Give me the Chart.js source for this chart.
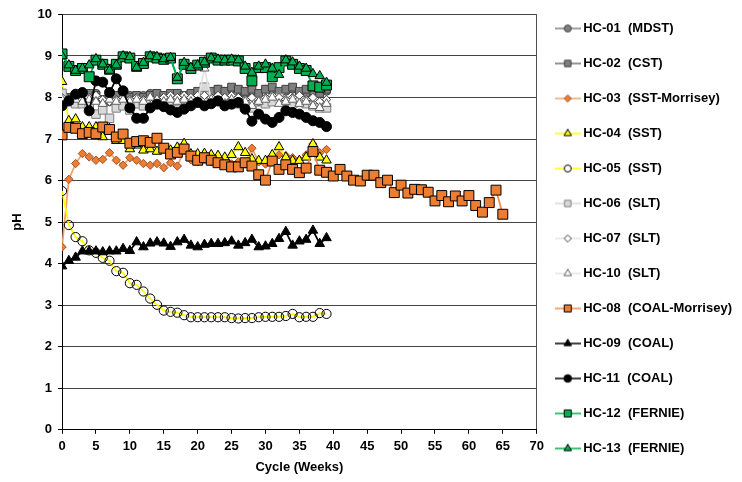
<!DOCTYPE html>
<html>
<head>
<meta charset="utf-8">
<script src="https://cdn.jsdelivr.net/npm/chart.js@4.4.1/dist/chart.umd.min.js"></script>
<style>
  html, body { margin: 0; padding: 0; background: #ffffff; }
  #wrap { width: 742px; height: 482px; }
</style>
</head>
<body>
<div id="wrap"><canvas id="c" width="742" height="482"></canvas></div>
<script>
// Weekly leach-cycle pH readings, one array per humidity cell.
const weeks39 = [0,1,2,3,4,5,6,7,8,9,10,11,12,13,14,15,16,17,18,19,20,21,22,23,24,25,26,27,28,29,30,31,32,33,34,35,36,37,38,39];
const weeks65 = [0,1,2,3,4,5,6,7,8,9,10,11,12,13,14,15,16,17,18,19,20,21,22,23,24,25,26,27,28,29,30,31,32,33,34,35,36,37,38,39,40,41,42,43,44,45,46,47,48,49,50,51,52,53,54,55,56,57,58,59,60,61,62,63,64,65];

const hc01 = [7.95,8.0,8.05,8.1,8.0,8.1,7.95,7.9,8.0,8.0,8.05,8.0,8.05,8.1,8.05,8.0,8.05,8.1,8.05,8.1,8.05,8.15,8.1,8.2,8.15,8.2,8.15,8.1,8.15,8.05,8.2,8.15,8.1,8.15,8.2,8.1,8.1,8.15,8.1,8.15];
const hc02 = [8.05,8.0,8.0,8.05,8.1,8.05,7.95,8.0,8.05,7.95,8.0,8.05,8.0,8.05,8.1,8.05,8.1,8.1,8.05,8.1,8.15,8.1,8.15,8.2,8.15,8.25,8.2,8.15,8.2,8.1,8.2,8.25,8.15,8.2,8.25,8.15,8.2,8.25,8.1,8.2];
const hc03 = [4.4,6.03,6.41,6.65,6.57,6.49,6.51,6.67,6.49,6.37,6.55,6.49,6.41,6.37,6.41,6.31,6.43,6.35,6.72,6.5,6.45,6.5,6.45,6.42,6.45,6.4,6.45,6.4,6.78,6.45,6.4,6.55,6.62,6.6,6.55,6.5,6.62,6.88,6.67,6.75];
const hc04 = [8.38,7.44,7.48,7.29,7.29,7.29,7.05,7.25,6.96,6.96,6.76,6.85,6.73,6.76,6.7,6.75,6.73,6.8,6.89,6.64,6.64,6.65,6.62,6.6,6.56,6.62,6.81,6.67,6.52,6.48,6.48,6.62,6.81,6.56,6.48,6.48,6.56,6.88,6.56,6.49];
const hc05 = [5.75,4.93,4.64,4.54,4.32,4.26,4.14,4.07,3.82,3.78,3.53,3.49,3.33,3.16,3.01,2.87,2.84,2.82,2.76,2.71,2.71,2.71,2.71,2.71,2.71,2.69,2.68,2.69,2.69,2.71,2.72,2.72,2.72,2.74,2.79,2.71,2.72,2.72,2.81,2.79];
const hc06 = [8.1,7.9,7.85,7.85,7.8,7.6,7.7,7.5,7.75,7.8,7.7,7.85,7.8,7.85,7.9,7.9,7.85,7.9,7.95,7.9,7.95,8.25,7.95,7.9,7.95,8.0,7.85,7.9,7.75,7.9,7.85,7.9,8.0,7.9,7.85,7.95,7.85,7.8,7.75,7.75];
const hc07 = [8.0,7.95,8.0,7.95,8.0,8.05,7.95,7.9,7.95,8.0,7.95,8.0,7.95,8.0,7.95,8.0,8.05,8.0,8.05,8.0,8.05,8.05,8.0,8.05,8.0,8.05,8.0,7.95,8.0,7.9,8.0,8.05,8.0,7.95,8.0,8.05,7.95,8.0,7.9,7.95];
const hc10 = [7.95,7.9,7.95,7.9,7.95,7.9,7.85,7.95,7.9,7.95,7.9,7.95,7.9,8.0,7.95,7.9,7.95,7.9,7.95,7.9,7.9,8.7,7.95,7.9,7.85,7.95,7.85,7.9,7.8,7.9,7.95,8.0,7.85,7.9,7.95,7.85,7.9,7.8,7.75,7.85];
const hc08 = [7.1,7.28,7.26,7.13,7.16,7.13,7.29,7.23,7.05,7.12,6.9,6.94,6.96,6.92,7.02,6.78,6.64,6.68,6.76,6.59,6.49,6.55,6.49,6.43,6.38,6.33,6.33,6.43,6.35,6.14,6.01,6.47,6.27,6.38,6.27,6.19,6.3,6.7,6.25,6.2,6.11,6.27,6.11,6.01,5.99,6.13,6.13,5.95,6.01,5.71,5.89,5.7,5.79,5.78,5.72,5.51,5.64,5.49,5.63,5.51,5.64,5.4,5.24,5.47,5.77,5.19];
const hc09 = [3.94,4.07,4.15,4.3,4.3,4.3,4.28,4.3,4.3,4.36,4.31,4.52,4.4,4.49,4.52,4.49,4.41,4.52,4.58,4.44,4.4,4.46,4.48,4.48,4.5,4.54,4.44,4.5,4.58,4.4,4.42,4.48,4.6,4.77,4.44,4.54,4.58,4.8,4.48,4.62];
const hc11 = [7.8,7.92,8.08,8.12,7.68,8.4,8.37,8.12,8.45,8.16,7.75,7.5,7.5,7.75,7.84,7.78,7.7,7.64,7.72,7.8,7.88,7.8,7.85,7.92,7.8,7.84,7.88,7.72,7.43,7.6,7.48,7.4,7.52,7.68,7.64,7.6,7.52,7.44,7.4,7.3];
const hc12 = [9.05,8.75,8.65,8.7,8.5,8.9,8.8,8.68,8.8,8.98,8.95,8.75,8.82,8.98,8.95,8.92,8.95,8.45,8.8,8.7,8.78,8.85,8.95,8.9,8.9,8.9,8.88,8.7,8.4,8.72,8.72,8.5,8.72,8.88,8.8,8.7,8.65,8.28,8.25,8.3];
const hc13 = [9.0,8.78,8.65,8.7,8.78,8.93,8.8,8.65,8.78,9.0,8.98,8.72,8.84,9.0,8.98,8.93,8.96,8.48,8.84,8.72,8.78,8.85,8.95,8.92,8.9,8.92,8.9,8.75,8.6,8.75,8.8,8.7,8.55,8.9,8.85,8.75,8.7,8.57,8.52,8.36];

const yTicksMin = 0, yTicksMax = 10, yStep = 1;
const xTicksMin = 0, xTicksMax = 70, xStep = 5;

const FONT = '"Liberation Sans", Arial, sans-serif';

function pts(xs, ys) { return ys.map((v, i) => ({ x: xs[i], y: v })); }

function series(label, xs, ys, s) {
  return {
    label,
    data: pts(xs, ys),
    borderColor: s.line,
    borderWidth: s.lw || 1.75,
    pointStyle: s.shape,
    pointRadius: s.r,
    pointHoverRadius: s.r,
    pointBackgroundColor: s.fill,
    pointBorderColor: s.edge,
    pointBorderWidth: 1,
    legendRadius: s.lr,
    tension: 0,
    fill: false
  };
}

const datasets = [
  series('HC-01  (MDST)', weeks39, hc01, { line: '#808080', shape: 'circle', r: 4, fill: '#808080', edge: '#404040', lr: 3.5 }),
  series('HC-02  (CST)', weeks39, hc02, { line: '#707070', shape: 'rect', r: 5.5, fill: '#7f7f7f', edge: '#404040', lr: 4.5 }),
  series('HC-03  (SST-Morrisey)', weeks39, hc03, { line: '#f4a16a', shape: 'rectRot', r: 4.2, fill: '#ed7d31', edge: '#a0522d', lr: 3.6 }),
  series('HC-04  (SST)', weeks39, hc04, { line: '#ffff00', shape: 'triangle', r: 5.5, fill: '#ffff00', edge: '#000000', lr: 4.3 }),
  series('HC-05  (SST)', weeks39, hc05, { line: '#ffff00', shape: 'circle', r: 4.6, fill: 'rgba(255,255,255,0)', edge: '#000000', lr: 3.5 }),
  series('HC-06  (SLT)', weeks39, hc06, { line: '#d9d9d9', shape: 'rect', r: 6, fill: '#d9d9d9', edge: '#7f7f7f', lr: 4.5 }),
  series('HC-07  (SLT)', weeks39, hc07, { line: '#e3e3e3', shape: 'rectRot', r: 4.2, fill: '#ffffff', edge: '#404040', lr: 3.6 }),
  series('HC-10  (SLT)', weeks39, hc10, { line: '#e3e3e3', shape: 'triangle', r: 5.2, fill: '#ffffff', edge: '#606060', lr: 4.3 }),
  series('HC-08  (COAL-Morrisey)', weeks65, hc08, { line: '#f08a4b', shape: 'rect', r: 7, fill: '#ed7d31', edge: '#000000', lr: 5 }),
  series('HC-09  (COAL)', weeks39, hc09, { line: '#000000', shape: 'triangle', r: 5.5, fill: '#000000', edge: '#000000', lr: 4.3 }),
  series('HC-11  (COAL)', weeks39, hc11, { line: '#000000', shape: 'circle', r: 5, fill: '#000000', edge: '#000000', lr: 3.8 }),
  series('HC-12  (FERNIE)', weeks39, hc12, { line: '#00b050', shape: 'rect', r: 7, fill: '#00b050', edge: '#000000', lr: 5 }),
  series('HC-13  (FERNIE)', weeks39, hc13, { line: '#00b050', shape: 'triangle', r: 5.5, fill: '#00b050', edge: '#000000', lr: 4.3 })
];
// later cells are painted over earlier ones
datasets.forEach((d, i) => { d.order = -i; });

// legend swatch: the connecting line with the marker in the middle
function drawMarker(g, shape, x, y, r) {
  g.beginPath();
  if (shape === 'circle') {
    g.arc(x, y, r, 0, Math.PI * 2);
  } else if (shape === 'rect') {
    const s = r * Math.SQRT1_2;
    g.rect(x - s, y - s, 2 * s, 2 * s);
  } else if (shape === 'rectRot') {
    g.moveTo(x - r, y); g.lineTo(x, y - r); g.lineTo(x + r, y); g.lineTo(x, y + r);
  } else if (shape === 'triangle') {
    const b = r * Math.sqrt(3) / 2;
    g.moveTo(x, y - r); g.lineTo(x + b, y + r / 2); g.lineTo(x - b, y + r / 2);
  }
  g.closePath();
  g.fill();
  g.stroke();
}

function swatch(ds) {
  const c = document.createElement('canvas');
  c.width = 26; c.height = 12;
  const g = c.getContext('2d');
  g.strokeStyle = ds.borderColor;
  g.lineWidth = 1.5;
  g.beginPath(); g.moveTo(0, 6); g.lineTo(26, 6); g.stroke();
  g.fillStyle = ds.pointBackgroundColor === 'rgba(255,255,255,0)' ? '#ffffff' : ds.pointBackgroundColor;
  g.strokeStyle = ds.pointBorderColor;
  g.lineWidth = 1;
  drawMarker(g, ds.pointStyle, 13, 6, ds.legendRadius);
  return c;
}

function build() {
  const ctx = document.getElementById('c').getContext('2d');
  new Chart(ctx, {
    type: 'line',
    data: { datasets },
    options: {
      responsive: false,
      animation: false,
      devicePixelRatio: 1,
      layout: { padding: { left: 10, right: 0, top: 0, bottom: 0 } },
      plugins: {
        tooltip: { enabled: false },
        legend: {
          position: 'right',
          align: 'start',
          maxWidth: 215,
          labels: {
            usePointStyle: true,
            pointStyleWidth: 18,
            padding: 22,
            color: '#000000',
            font: { family: FONT, size: 13, weight: 'bold' },
            generateLabels: (chart) => chart.data.datasets.map((ds, i) => ({
              text: ds.label,
              datasetIndex: i,
              pointStyle: swatch(ds),
              fontColor: '#000000',
              fillStyle: 'transparent',
              strokeStyle: 'transparent',
              lineWidth: 0,
              hidden: false
            }))
          }
        }
      },
      scales: {
        x: {
          type: 'linear',
          min: xTicksMin, max: xTicksMax,
          ticks: { stepSize: xStep, color: '#000', padding: 5, font: { family: FONT, size: 13, weight: 'bold' } },
          grid: {
            color: (c) => (c.tick && c.tick.value === xTicksMax ? '#505050' : 'rgba(0,0,0,0)'),
            tickColor: '#000000',
            tickLength: 4,
            lineWidth: 1
          },
          border: { color: '#000000', width: 1 },
          title: { display: true, text: 'Cycle (Weeks)', color: '#000', padding: { top: 0, bottom: 7 }, font: { family: FONT, size: 13, weight: 'bold' } }
        },
        y: {
          min: yTicksMin, max: yTicksMax,
          ticks: { stepSize: yStep, color: '#000', padding: 6, font: { family: FONT, size: 13, weight: 'bold', lineHeight: 1.3 } },
          grid: { color: '#454545', tickColor: '#000000', tickLength: 4, lineWidth: 1 },
          border: { color: '#000000', width: 1 },
          title: { display: true, text: 'pH', color: '#000', padding: { top: 0, bottom: 6 }, font: { family: FONT, size: 13, weight: 'bold' } }
        }
      }
    }
  });
}

if (document.fonts && document.fonts.load) {
  document.fonts.load('bold 13px "Liberation Sans"').then(build, build);
} else {
  build();
}
</script>
</body>
</html>
